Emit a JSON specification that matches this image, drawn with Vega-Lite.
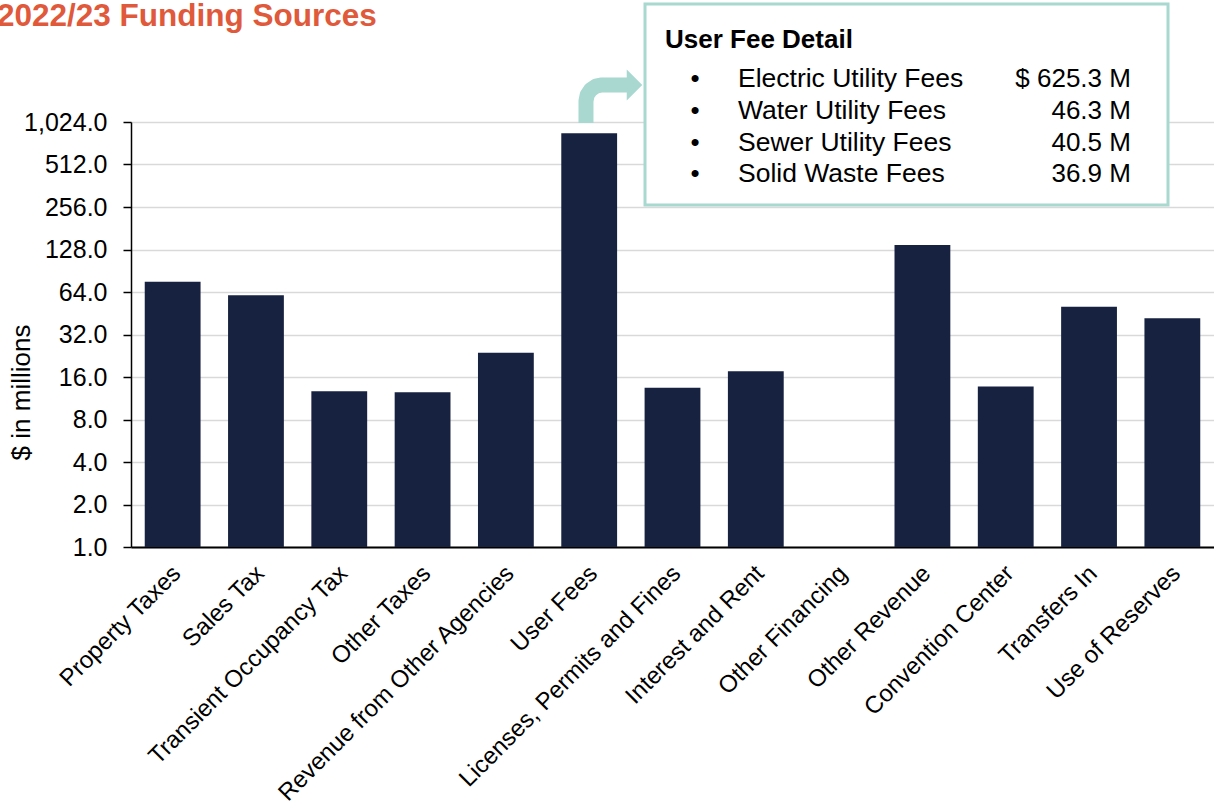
{
  "$schema": "https://vega.github.io/schema/vega-lite/v6.json",
  "width": 1083,
  "height": 425,
  "autosize": {"type": "none"},
  "padding": {"left": 131, "top": 122, "right": 0, "bottom": 260},
  "background": "white",
  "title": {
    "text": "2022/23 Funding Sources",
    "anchor": "start",
    "frame": "group",
    "dx": -134,
    "dy": 55,
    "baseline": "alphabetic",
    "fontSize": 31.5,
    "fontWeight": "bold",
    "color": "#E0593B",
    "font": "Liberation Sans",
    "offset": 0
  },
  "config": {
    "view": {"stroke": null},
    "font": "Liberation Sans",
    "text": {"font": "Liberation Sans"}
  },
  "datasets": {
    "bars": [
      {"source": "Property Taxes", "value": 75.7},
      {"source": "Sales Tax", "value": 60.6},
      {"source": "Transient Occupancy Tax", "value": 12.7},
      {"source": "Other Taxes", "value": 12.5},
      {"source": "Revenue from Other Agencies", "value": 23.8},
      {"source": "User Fees", "value": 852},
      {"source": "Licenses, Permits and Fines", "value": 13.4},
      {"source": "Interest and Rent", "value": 17.6},
      {"source": "Other Financing", "value": 1},
      {"source": "Other Revenue", "value": 137.7},
      {"source": "Convention Center", "value": 13.7},
      {"source": "Transfers In", "value": 50.4},
      {"source": "Use of Reserves", "value": 41.7}
    ],
    "box": [
      {"x1": 6.17, "x2": 12.448, "y1": 264.6, "y2": 7017}
    ],
    "arrow": [
      {"i": 0, "ax": 5.4615, "ay": 1007},
      {"i": 1, "ax": 5.4615, "ay": 1442},
      {"i": 2, "ax": 5.476, "ay": 1593},
      {"i": 3, "ax": 5.518, "ay": 1734},
      {"i": 4, "ax": 5.58, "ay": 1836},
      {"i": 5, "ax": 5.654, "ay": 1873},
      {"i": 6, "ax": 5.966, "ay": 1873}
    ],
    "arrowHead": [
      {"ax": 6.044, "ay": 1873}
    ],
    "note": [
      {"kind": "heading", "label": "User Fee Detail", "ax": 6.41, "ay": 3423},
      {"kind": "bullet", "label": "•", "ax": 6.77, "ay": 1812},
      {"kind": "bullet", "label": "•", "ax": 6.77, "ay": 1084},
      {"kind": "bullet", "label": "•", "ax": 6.77, "ay": 643},
      {"kind": "bullet", "label": "•", "ax": 6.77, "ay": 382},
      {"kind": "item", "label": "Electric Utility Fees", "ax": 7.286, "ay": 1812},
      {"kind": "item", "label": "Water Utility Fees", "ax": 7.286, "ay": 1084},
      {"kind": "item", "label": "Sewer Utility Fees", "ax": 7.286, "ay": 643},
      {"kind": "item", "label": "Solid Waste Fees", "ax": 7.286, "ay": 382},
      {"kind": "amount", "label": "$ 625.3 M", "ax": 12.003, "ay": 1812},
      {"kind": "amount", "label": "46.3 M", "ax": 12.003, "ay": 1084},
      {"kind": "amount", "label": "40.5 M", "ax": 12.003, "ay": 643},
      {"kind": "amount", "label": "36.9 M", "ax": 12.003, "ay": 382}
    ]
  },
  "layer": [
    {
      "data": {"name": "bars"},
      "mark": {"type": "bar", "color": "#172241"},
      "encoding": {
        "x": {
          "field": "source",
          "type": "nominal",
          "sort": null,
          "scale": {"paddingInner": 0.33, "paddingOuter": 0.165},
          "axis": {
            "title": null,
            "labelAngle": -45,
            "labelAlign": "right",
            "labelBaseline": "top",
            "labelFontSize": 24,
            "labelColor": "black",
            "labelFont": "Liberation Sans",
            "labelOffset": -4,
            "ticks": false,
            "tickSize": 0,
            "labelPadding": 14,
            "labelLimit": 0,
            "labelOverlap": false,
            "domainColor": "black",
            "domainWidth": 2
          }
        },
        "y": {
          "field": "value",
          "type": "quantitative",
          "scale": {"type": "log", "base": 2, "domain": [1, 1024], "nice": false},
          "axis": {
            "values": [1, 2, 4, 8, 16, 32, 64, 128, 256, 512, 1024],
            "format": ",.1f",
            "title": "$ in millions",
            "titleFontSize": 26,
            "titleFontWeight": "normal",
            "titleColor": "black",
            "titleFont": "Liberation Sans",
            "titleAngle": -90,
            "titleAlign": "center",
            "titleBaseline": "alphabetic",
            "titleX": -102,
            "titleY": 270,
            "labelFontSize": 25,
            "labelColor": "black",
            "labelFont": "Liberation Sans",
            "labelPadding": 16,
            "tickSize": 8,
            "tickColor": "black",
            "tickWidth": 1.5,
            "domainColor": "black",
            "domainWidth": 1.5,
            "grid": true,
            "gridColor": "#d9d9d9",
            "gridWidth": 1.5
          }
        },
        "y2": {"datum": 1}
      }
    },
    {
      "data": {"name": "box"},
      "mark": {"type": "rect", "fill": "white", "stroke": "#A8D8CF", "strokeWidth": 3},
      "encoding": {
        "x": {"field": "x1", "type": "quantitative", "scale": {"domain": [0, 13], "nice": false, "zero": false}, "axis": null},
        "x2": {"field": "x2"},
        "y": {"field": "y1", "type": "quantitative", "scale": {"type": "log", "base": 2, "domain": [1, 1024], "nice": false}, "axis": null},
        "y2": {"field": "y2"}
      }
    },
    {
      "data": {"name": "arrow"},
      "mark": {"type": "line", "color": "#A8D8CF", "strokeWidth": 15, "strokeCap": "butt", "strokeJoin": "round"},
      "encoding": {
        "x": {"field": "ax", "type": "quantitative", "scale": {"domain": [0, 13], "nice": false, "zero": false}, "axis": null},
        "y": {"field": "ay", "type": "quantitative", "scale": {"type": "log", "base": 2, "domain": [1, 1024], "nice": false}, "axis": null},
        "order": {"field": "i", "type": "quantitative"}
      }
    },
    {
      "data": {"name": "arrowHead"},
      "mark": {"type": "point", "shape": "M -0.5 -1 L 0.5 0 L -0.5 1 Z", "size": 961, "filled": true, "color": "#A8D8CF", "opacity": 1},
      "encoding": {
        "x": {"field": "ax", "type": "quantitative", "scale": {"domain": [0, 13], "nice": false, "zero": false}, "axis": null},
        "y": {"field": "ay", "type": "quantitative", "scale": {"type": "log", "base": 2, "domain": [1, 1024], "nice": false}, "axis": null}
      }
    },
    {
      "data": {"name": "note"},
      "transform": [{"filter": "datum.kind === 'heading'"}],
      "mark": {"type": "text", "align": "left", "baseline": "alphabetic", "fontSize": 26, "fontWeight": "bold", "color": "black", "font": "Liberation Sans"},
      "encoding": {
        "x": {"field": "ax", "type": "quantitative", "scale": {"domain": [0, 13], "nice": false, "zero": false}, "axis": null},
        "y": {"field": "ay", "type": "quantitative", "scale": {"type": "log", "base": 2, "domain": [1, 1024], "nice": false}, "axis": null},
        "text": {"field": "label"}
      }
    },
    {
      "data": {"name": "note"},
      "transform": [{"filter": "datum.kind === 'bullet'"}],
      "mark": {"type": "text", "align": "center", "baseline": "alphabetic", "fontSize": 26, "color": "black", "font": "Liberation Sans"},
      "encoding": {
        "x": {"field": "ax", "type": "quantitative", "scale": {"domain": [0, 13], "nice": false, "zero": false}, "axis": null},
        "y": {"field": "ay", "type": "quantitative", "scale": {"type": "log", "base": 2, "domain": [1, 1024], "nice": false}, "axis": null},
        "text": {"field": "label"}
      }
    },
    {
      "data": {"name": "note"},
      "transform": [{"filter": "datum.kind === 'item'"}],
      "mark": {"type": "text", "align": "left", "baseline": "alphabetic", "fontSize": 26.5, "color": "black", "font": "Liberation Sans"},
      "encoding": {
        "x": {"field": "ax", "type": "quantitative", "scale": {"domain": [0, 13], "nice": false, "zero": false}, "axis": null},
        "y": {"field": "ay", "type": "quantitative", "scale": {"type": "log", "base": 2, "domain": [1, 1024], "nice": false}, "axis": null},
        "text": {"field": "label"}
      }
    },
    {
      "data": {"name": "note"},
      "transform": [{"filter": "datum.kind === 'amount'"}],
      "mark": {"type": "text", "align": "right", "baseline": "alphabetic", "fontSize": 26, "color": "black", "font": "Liberation Sans"},
      "encoding": {
        "x": {"field": "ax", "type": "quantitative", "scale": {"domain": [0, 13], "nice": false, "zero": false}, "axis": null},
        "y": {"field": "ay", "type": "quantitative", "scale": {"type": "log", "base": 2, "domain": [1, 1024], "nice": false}, "axis": null},
        "text": {"field": "label"}
      }
    }
  ],
  "resolve": {"scale": {"x": "independent", "y": "independent"}}
}
